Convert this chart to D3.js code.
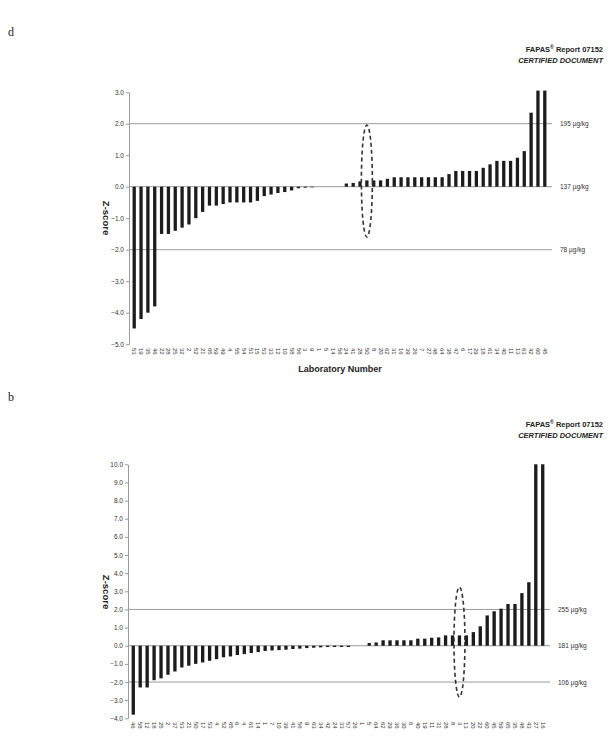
<!DOCTYPE html>
<html>
<head>
<meta charset="utf-8">
<script src="https://cdn.jsdelivr.net/npm/d3@7/dist/d3.min.js"></script>
<style>
  body { margin: 0; background: #fff; }
  svg { font-family: Arial, "Liberation Sans", sans-serif; }
</style>
</head>
<body>
<svg width="616" height="738"></svg>
<script>
// data top chart (d)
var labsD = ["53","19","35","46","22","28","25","32","2","52","21","65","59","49","4","55","54","51","15","53","33","12","10","58","56","3","9","1","5","14","56","24","41","28","50","8","20","62","31","16","39","26","7","27","48","64","38","47","6","17","29","18","61","34","40","11","13","63","42","60","45"];
var zD = [-4.5,-4.2,-4.0,-3.8,-1.5,-1.5,-1.4,-1.3,-1.2,-1.0,-0.8,-0.6,-0.6,-0.55,-0.5,-0.5,-0.5,-0.5,-0.45,-0.3,-0.25,-0.2,-0.17,-0.12,-0.05,-0.03,-0.02,0,0,0,0,0.1,0.12,0.17,0.2,0.2,0.2,0.25,0.3,0.3,0.3,0.3,0.3,0.3,0.3,0.3,0.4,0.5,0.5,0.5,0.5,0.6,0.71,0.82,0.82,0.82,0.92,1.13,2.35,3.05,3.05];
var ticksD = [3,2,1,0,-1,-2,-3,-4,-5];
var concD = ["195 µg/kg","137 µg/kg","78 µg/kg"];

// data bottom chart (b)
var labsB = ["46","58","12","18","25","2","37","53","21","50","17","53","4","52","65","6","4","61","14","1","7","10","39","41","56","9","63","34","42","24","33","57","26","1","5","64","62","29","36","30","6","40","19","11","31","28","8","3","13","20","22","60","45","59","65","35","48","43","27","16"];
var zB = [-3.8,-2.3,-2.3,-1.9,-1.8,-1.6,-1.42,-1.2,-1.1,-1.0,-0.92,-0.83,-0.74,-0.64,-0.59,-0.51,-0.46,-0.4,-0.35,-0.29,-0.26,-0.24,-0.22,-0.18,-0.16,-0.13,-0.11,-0.09,-0.07,-0.07,-0.07,-0.07,0,0,0.15,0.18,0.3,0.3,0.3,0.3,0.3,0.39,0.39,0.44,0.46,0.57,0.57,0.57,0.57,0.75,1.07,1.67,1.9,2.04,2.3,2.3,2.9,3.5,10,10];
var ticksB = [10,9,8,7,6,5,4,3,2,1,0,-1,-2,-3,-4];
var concB = ["255 µg/kg","181 µg/kg","106 µg/kg"];

var refLines = [2, 0, -2];

var svg = d3.select("svg");

function drawChart(o) {
  var x = d3.scaleBand().domain(d3.range(o.labs.length)).range([o.x0, o.x1]).padding(0.52);
  var y = d3.scaleLinear().domain(o.dom).range(o.yr);
  var g = svg.append("g");

  // header
  g.append("text").attr("x", 603).attr("y", o.headY).attr("text-anchor", "end")
    .attr("font-size", "7.5px").attr("font-weight", "bold").attr("fill", "#222")
    .html('FAPAS<tspan font-size="5px" dy="-3">®</tspan><tspan dy="3"> Report 07152</tspan>');
  g.append("text").attr("x", 603).attr("y", o.headY + 11).attr("text-anchor", "end")
    .attr("font-size", "7.5px").attr("font-style", "italic").attr("font-weight", "bold").attr("fill", "#222")
    .text("CERTIFIED DOCUMENT");

  // reference lines
  g.selectAll(".ref").data(refLines).enter().append("line")
    .attr("x1", o.x0).attr("x2", o.x1 + 2)
    .attr("y1", function(d){ return y(d); }).attr("y2", function(d){ return y(d); })
    .attr("stroke", "#9a9a9a").attr("stroke-width", 1);

  g.selectAll(".conc").data(o.conc).enter().append("text")
    .attr("x", o.x1 + 10).attr("y", function(d, i){ return y(refLines[i]) + 2.5; })
    .attr("font-size", "6.5px").attr("fill", "#333").text(function(d){ return d; });

  // bars
  g.selectAll(".bar").data(o.z).enter().append("rect")
    .attr("x", function(d, i){ return x(i); })
    .attr("y", function(d){ return y(Math.max(0, d)); })
    .attr("width", x.bandwidth())
    .attr("height", function(d){ return Math.abs(y(d) - y(0)); })
    .attr("fill", "#1c1c1c");

  // y axis
  var ay = g.append("g").attr("transform", "translate(" + o.x0 + ",0)")
    .call(d3.axisLeft(y).tickValues(o.ticks).tickSize(3).tickSizeOuter(0).tickFormat(d3.format(".1f")));
  ay.select(".domain").attr("stroke", "#9a9a9a");
  ay.selectAll(".tick line").attr("stroke", "#9a9a9a");
  ay.selectAll(".tick text").attr("font-size", "6.5px").attr("fill", "#333")
    .attr("font-family", "Arial, 'Liberation Sans', sans-serif").attr("x", -5);

  g.append("text")
    .attr("transform", "translate(" + 103 + "," + o.titleY + ") rotate(90)")
    .attr("text-anchor", "middle").attr("font-size", "9.5px").attr("font-weight", "bold")
    .attr("fill", "#222").text("Z-score");

  // x labels
  var ax = g.append("g").attr("transform", "translate(0," + o.labY + ")")
    .call(d3.axisBottom(x).tickSize(0).tickFormat(function(i){ return o.labs[i]; }));
  ax.select(".domain").remove();
  ax.selectAll(".tick text")
    .attr("font-size", "6px").attr("fill", "#333")
    .attr("font-family", "Arial, 'Liberation Sans', sans-serif")
    .attr("transform", "rotate(90)").attr("text-anchor", "start")
    .attr("x", 0).attr("y", 0).attr("dx", "0").attr("dy", "0.32em");

  // dashed ellipse
  g.append("ellipse")
    .attr("cx", x(o.circ) + x.bandwidth() / 2).attr("cy", y(o.ell[0]))
    .attr("rx", 5.5).attr("ry", o.ell[1])
    .attr("fill", "none").attr("stroke", "#333").attr("stroke-width", 1.6)
    .attr("stroke-dasharray", "4,3");

  return { x: x, y: y };
}

drawChart({ labs: labsD, z: zD, ticks: ticksD, conc: concD, dom: [-5, 3], yr: [344.2, 92.2],
  x0: 129, x1: 550, headY: 52, titleY: 218, labY: 348, circ: 34, ell: [0.18, 56] });

drawChart({ labs: labsB, z: zB, ticks: ticksB, conc: concB, dom: [-4, 10], yr: [718.3, 464.3],
  x0: 128, x1: 548, headY: 427, titleY: 592, labY: 722, circ: 47, ell: [0.2, 55] });

svg.append("text").attr("x", 340).attr("y", 372).attr("text-anchor", "middle")
  .attr("font-size", "9px").attr("font-weight", "bold").attr("fill", "#222")
  .text("Laboratory Number");

svg.append("text").attr("x", 8).attr("y", 36).attr("font-family", "'Liberation Serif', serif")
  .attr("font-size", "12px").attr("fill", "#222").text("d");
svg.append("text").attr("x", 8).attr("y", 401).attr("font-family", "'Liberation Serif', serif")
  .attr("font-size", "12px").attr("fill", "#222").text("b");
</script>
</body>
</html>
